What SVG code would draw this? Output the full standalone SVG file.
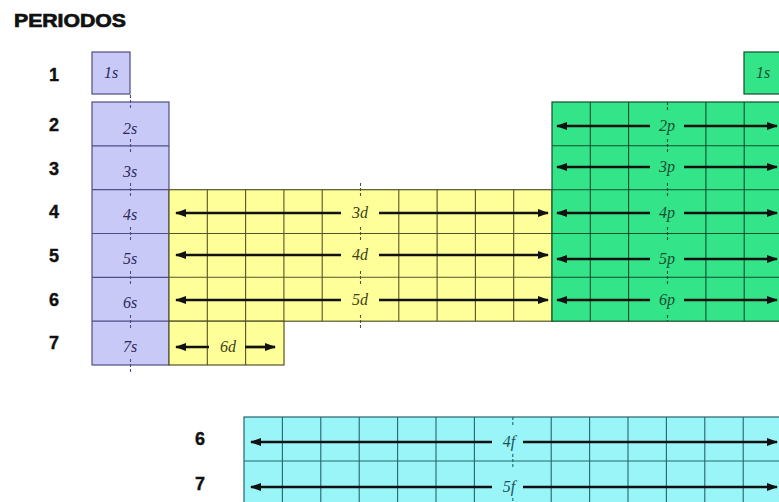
<svg xmlns="http://www.w3.org/2000/svg" width="779" height="502" viewBox="0 0 779 502">
<style>
.per{font-family:"Liberation Sans",Arial,sans-serif;font-weight:bold;font-size:18px;fill:#111;stroke:#111;stroke-width:0.4;text-anchor:middle}
.lab{font-family:"Liberation Serif","Times New Roman",serif;font-style:italic;font-size:16px;text-anchor:middle}
.s{fill:#c9c9f7;stroke:#4e4e84;stroke-width:1.2}
.sl{stroke:#4e4e84;stroke-width:1.2;fill:none}
.d{fill:#ffff99;stroke:#54542a;stroke-width:1.2}
.dl{stroke:#54542a;stroke-width:1.1;fill:none}
.p{fill:#33e488;stroke:#124f2e;stroke-width:1.2}
.pl{stroke:#124f2e;stroke-width:1.1;fill:none}
.f{fill:#99f5f8;stroke:#24666b;stroke-width:1.2}
.fl{stroke:#24666b;stroke-width:1.1;fill:none}
.tick{stroke-width:1.1;stroke-dasharray:3 2;fill:none}
.arr{stroke:#111;stroke-width:2.7;fill:none;marker-end:url(#head)}
</style>
<defs>
<marker id="head" markerUnits="userSpaceOnUse" markerWidth="11" markerHeight="8" refX="10" refY="4" orient="auto">
<path d="M0,0 L11,4 L0,8 z" fill="#111"/>
</marker>
</defs>
<rect width="779" height="502" fill="#fff"/>
<text x="14" y="27" font-family="'Liberation Sans',Arial,sans-serif" font-weight="bold" font-size="18" fill="#111" stroke="#111" stroke-width="0.7" textLength="112" lengthAdjust="spacingAndGlyphs">PERIODOS</text>
<g id="period-labels">
<text class="per" x="54" y="81">1</text>
<text class="per" x="54" y="131">2</text>
<text class="per" x="54" y="175">3</text>
<text class="per" x="54" y="218">4</text>
<text class="per" x="54" y="262">5</text>
<text class="per" x="54" y="306">6</text>
<text class="per" x="54" y="349">7</text>
<text class="per" x="200" y="445">6</text>
<text class="per" x="200" y="490">7</text>
</g>
<g id="s-block">
<rect class="s" x="92" y="52" width="38" height="42"/>
<rect class="s" x="92" y="102" width="77" height="263"/>
<path class="sl" d="M92,145.8H169M92,189.7H169M92,233.5H169M92,277.3H169M92,321.2H169"/>
<path class="tick" stroke="#4e4e84" d="M130.5,95V109M130.5,139V153M130.5,183V197M130.5,227V241M130.5,271V285M130.5,315V329M130.5,359V372"/>
<g fill="#2a2a5a">
<text class="lab" x="111" y="78">1s</text>
<text class="lab" x="130" y="134">2s</text>
<text class="lab" x="130" y="177">3s</text>
<text class="lab" x="130" y="220">4s</text>
<text class="lab" x="130" y="264">5s</text>
<text class="lab" x="130" y="308">6s</text>
<text class="lab" x="130" y="352">7s</text>
</g>
</g>
<g id="d-block">
<rect class="d" x="169" y="189.7" width="383" height="131.5"/>
<rect class="d" x="169" y="321.2" width="115" height="43.8"/>
<path class="dl" d="M169,233.5H552M169,277.3H552M207.3,189.7V365M245.6,189.7V365M283.9,189.7V321.2M322.2,189.7V321.2M398.8,189.7V321.2M437.1,189.7V321.2M475.4,189.7V321.2M513.7,189.7V321.2"/>
<path class="tick" stroke="#54542a" d="M360.5,183V197M360.5,227V241M360.5,271V285M360.5,315V328"/>
<g fill="#3e3e18">
<text class="lab" x="360" y="218">3d</text>
<text class="lab" x="360" y="260">4d</text>
<text class="lab" x="360" y="305">5d</text>
<text class="lab" x="228" y="352">6d</text>
</g>
</g>
<g id="p-block">
<rect class="p" x="744" y="52" width="40" height="42"/>
<rect class="p" x="552" y="102" width="232" height="219.2"/>
<path class="pl" d="M552,145.8H784M552,189.7H784M552,233.5H784M552,277.3H784M590.3,102V321.2M628.6,102V321.2M705.9,102V321.2M744.2,102V321.2"/>
<path class="tick" stroke="#124f2e" d="M667.5,102V110M667.5,139V153M667.5,183V197M667.5,227V241M667.5,271V285M667.5,315V321"/>
<g fill="#174d31">
<text class="lab" x="763" y="78">1s</text>
<text class="lab" x="667" y="131">2p</text>
<text class="lab" x="667" y="172">3p</text>
<text class="lab" x="667" y="218">4p</text>
<text class="lab" x="667" y="264">5p</text>
<text class="lab" x="667" y="305">6p</text>
</g>
</g>
<g id="f-block">
<rect class="f" x="244" y="417" width="540" height="90"/>
<path class="fl" d="M244,461H784M282.4,417V507M320.8,417V507M359.2,417V507M397.6,417V507M436,417V507M474.4,417V507M551.2,417V507M589.6,417V507M628,417V507M666.4,417V507M704.8,417V507M743.2,417V507"/>
<path class="tick" stroke="#24666b" d="M512.8,417V425M512.8,454V468M512.8,498V507"/>
<g fill="#215257">
<text class="lab" x="509" y="447">4f</text>
<text class="lab" x="509" y="492">5f</text>
</g>
</g>
<g id="connectors">
<path class="arr" d="M341,213H176"/><path class="arr" d="M379,213H548"/>
<path class="arr" d="M341,255H176"/><path class="arr" d="M379,255H548"/>
<path class="arr" d="M341,300H176"/><path class="arr" d="M379,300H548"/>
<path class="arr" d="M209,347H176"/><path class="arr" d="M245,347H275"/>
<path class="arr" d="M650,126H557"/><path class="arr" d="M684,126H777"/>
<path class="arr" d="M650,167H557"/><path class="arr" d="M684,167H777"/>
<path class="arr" d="M650,213H557"/><path class="arr" d="M684,213H777"/>
<path class="arr" d="M650,259H557"/><path class="arr" d="M684,259H777"/>
<path class="arr" d="M650,300H557"/><path class="arr" d="M684,300H777"/>
<path class="arr" d="M492,442H251"/><path class="arr" d="M523,442H777"/>
<path class="arr" d="M492,487H251"/><path class="arr" d="M523,487H777"/>
</g>
</svg>
